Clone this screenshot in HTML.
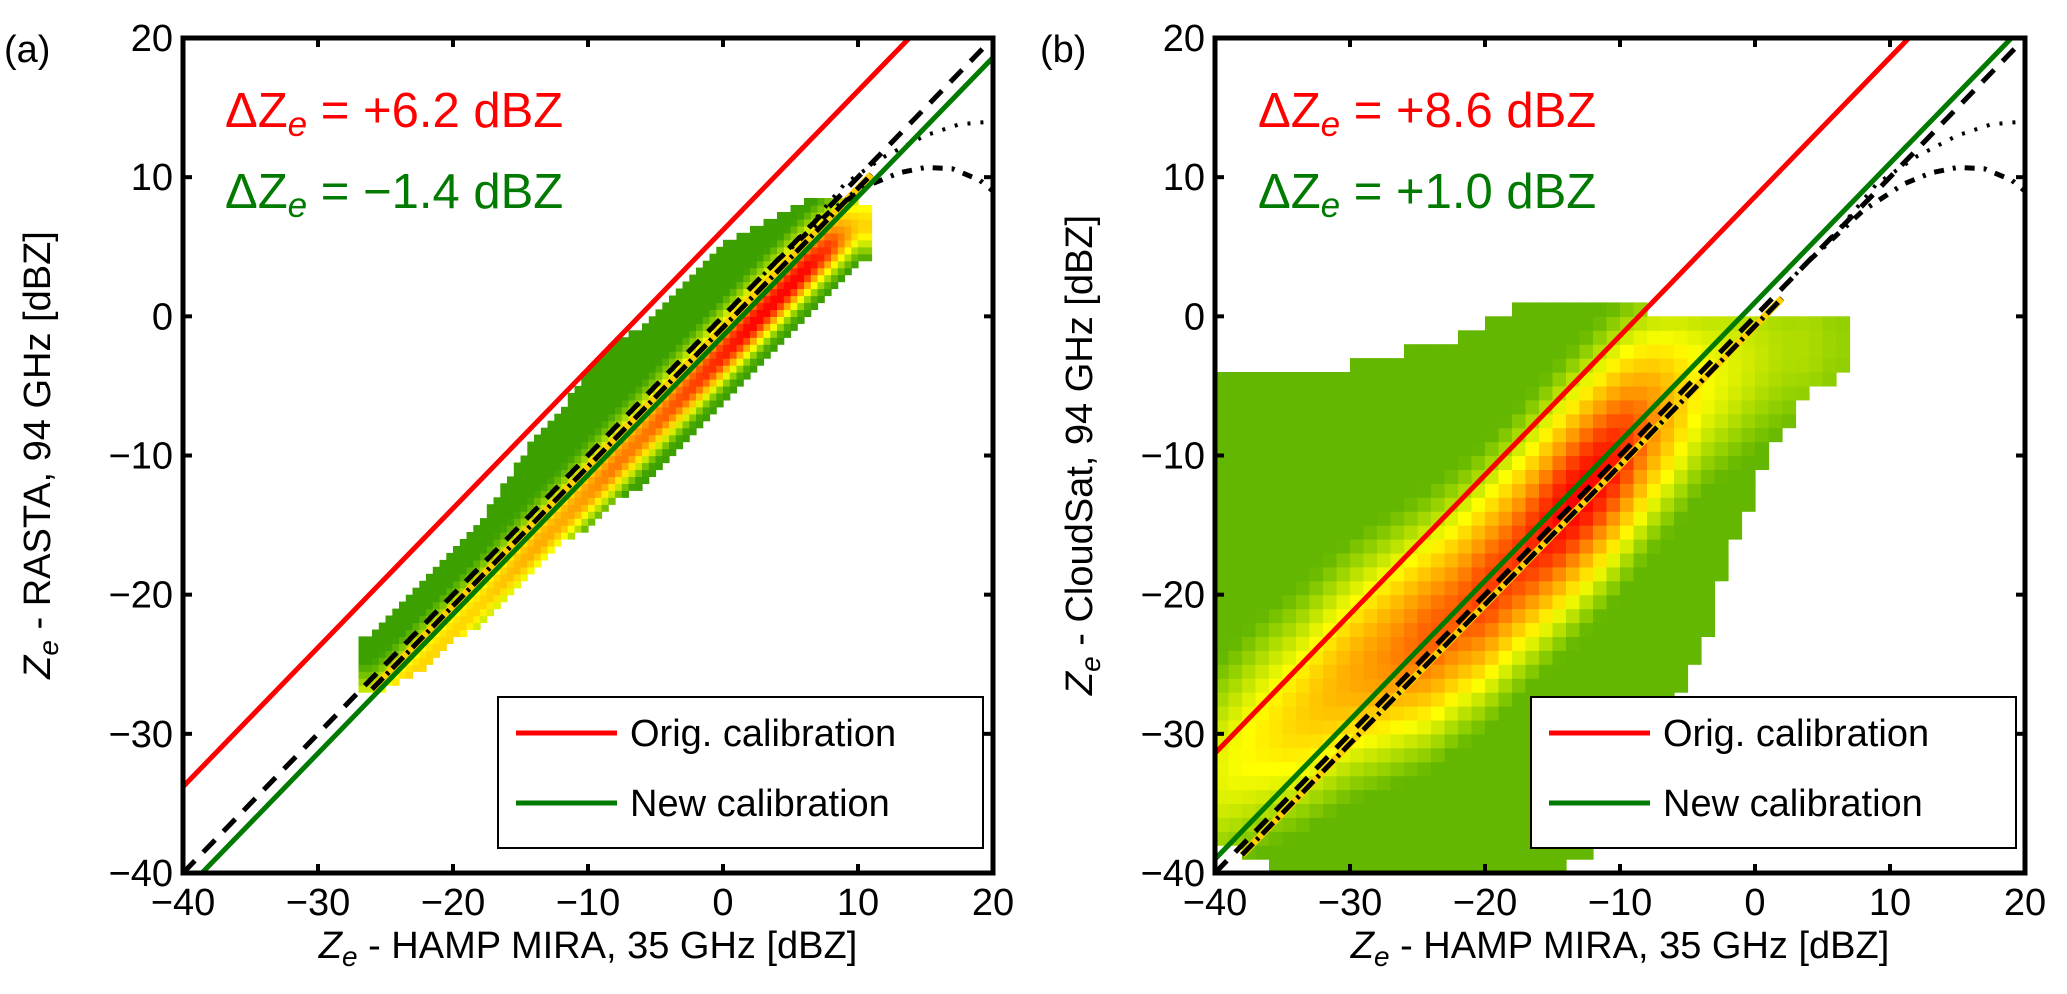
<!DOCTYPE html>
<html>
<head>
<meta charset="utf-8">
<style>
html,body{margin:0;padding:0;background:#fff;}
svg{display:block;font-family:"Liberation Sans",Arial,sans-serif;}
</style>
</head>
<body>
<svg id="fig" width="2067" height="994" viewBox="0 0 2067 994" xmlns="http://www.w3.org/2000/svg">
<defs>
<clipPath id="clipA"><rect x="183" y="38" width="810" height="835"/></clipPath>
<clipPath id="clipB"><rect x="1215" y="38" width="810" height="835"/></clipPath>
</defs>
<g id="panelA"></g>
<g id="panelB"></g>
</svg>
<script>
// ---------- Panel (a) data: RASTA vs MIRA ----------
const aColX   = [-26,-24,-22,-20,-18,-16,-14,-12,-10,-8,-6,-4,-2,0,2,4,6,8,10];
const aColLo  = [-27,-26,-25,-23,-22,-20,-18,-16,-15,-13,-12,-10,-8,-6,-4,-2,0,2,4];
const aColHi  = [-23,-21,-19,-17,-15,-12,-9,-7,-4,-2,-1,1,3,5,6,7,8,8.5,8];
const aRidge  = [-28.5,-26.8,-24.8,-22.8,-20.8,-18.8,-16.8,-14.8,-12.8,-10.8,-8.8,-6.8,-4.8,-2.8,-0.8,1.2,3.2,5,6.5];
const aPeak   = [0.55,0.6,0.6,0.6,0.6,0.65,0.7,0.7,0.75,0.8,0.8,0.85,0.9,0.95,1,1,1,0.9,0.6];
const aOffsets = {orig: 6.2, newc: -1.4};
// ---------- Panel (b) data: CloudSat vs MIRA ----------
const bColX   = [-40,-38,-36,-34,-32,-30,-28,-26,-24,-22,-20,-18,-16,-14,-12,-10,-8,-6,-4,-2,0,2,4,6];
const bColLo  = [-37,-38,-39,-40,-40,-40,-40,-40,-40,-40,-40,-40,-40,-39,-38,-37,-35,-27,-24,-17,-12,-8,-5,-4];
const bColHi  = [-4,-4,-4,-4,-4,-4,-3,-3,-2,-2,-1,0,1,1,1,1,0,0,0,0,0,0,0,0];
const bRidge  = [-33,-31.5,-30,-29,-27.5,-26,-25,-24,-23,-21.5,-20,-18,-16,-14,-12,-10,-8,-6.5,-5,-4,-3,-2.5,-2,-2];
const bPeak   = [0.45,0.5,0.55,0.6,0.65,0.7,0.75,0.8,0.85,0.85,0.9,0.9,0.95,1,1,0.95,0.8,0.65,0.5,0.45,0.4,0.35,0.35,0.3];
const bOffsets = {orig: 8.6, newc: 1.0};
// ---------- reference curves (shared) ----------
const dotCurveX = [3,6,9,12,15,17.5,20];
const dotCurveY = [3,6,9.5,11.5,13,13.8,14];
const ddCurveX  = [4,8,11,13,15,17,19,20];
const ddCurveY  = [4,7.6,9.5,10.3,10.7,10.6,9.8,9];
const ticks = [-40,-30,-20,-10,0,10,20];

const NS = "http://www.w3.org/2000/svg";
function mk(tag, attrs, parent){
  const e = document.createElementNS(NS, tag);
  for (const k in attrs) e.setAttribute(k, attrs[k]);
  if (parent) parent.appendChild(e);
  return e;
}
function cmap(v){
  const st=[[0,[0,128,0]],[0.3,[150,210,0]],[0.5,[255,255,0]],[0.75,[255,150,0]],[1,[255,0,0]]];
  v=Math.max(0,Math.min(1,v));
  for(let i=1;i<st.length;i++){
    if(v<=st[i][0]){
      const t=(v-st[i-1][0])/(st[i][0]-st[i-1][0]);
      const a=st[i-1][1],b=st[i][1];
      return `rgb(${Math.round(a[0]+t*(b[0]-a[0]))},${Math.round(a[1]+t*(b[1]-a[1]))},${Math.round(a[2]+t*(b[2]-a[2]))})`;
    }
  }
  return "rgb(255,0,0)";
}
function lookup(arr, cx, x){
  if(x<=cx[0]) return arr[0];
  if(x>=cx[cx.length-1]) return arr[arr.length-1];
  for(let i=0;i<cx.length-1;i++){
    if(x<=cx[i+1]){const t=(x-cx[i])/(cx[i+1]-cx[i]);return arr[i]+t*(arr[i+1]-arr[i]);}
  }
}

function drawPanel(g, P){
  const sx = x => P.X0 + (x+40)/60*(P.X1-P.X0);
  const sy = y => P.Y1 - (y+40)/60*(P.Y1-P.Y0);
  const hm = mk('g',{'clip-path':`url(#${P.clip})`},g);
  
  
  const xStart = P.cx[0]-P.colW/2, xEnd = P.cx[P.cx.length-1]+P.colW/2;
  for(let x=xStart; x<xEnd-1e-6; x+=P.cell){
    const xc = x+P.cell/2;
    const lo = lookup(P.lo,P.cx,xc), hi = lookup(P.hi,P.cx,xc);
    const rg = lookup(P.ridge,P.cx,xc), pk = lookup(P.peak,P.cx,xc);
    const y0 = Math.floor(lo/P.cell)*P.cell;
    for(let y=y0; y<hi-1e-6; y+=P.cell){
      const d = (y+P.cell/2) - rg;
      const s = d>0 ? P.sUp : P.sDn;
      const v = Math.max(P.floor, pk*Math.exp(-(d/s)*(d/s)));
      const r = mk('rect',{x:sx(x).toFixed(1), y:sy(y+P.cell).toFixed(1),
        width:(sx(x+P.cell)-sx(x)+0.6).toFixed(1), height:(sy(y)-sy(y+P.cell)+0.6).toFixed(1), fill:cmap(v)}, hm);
      
      
    }
  }
  const lines = mk('g',{'clip-path':`url(#${P.clip})`, fill:'none'},g);
  const fit = mk('line',{x1:sx(P.fitX0),y1:sy(P.fitX0+P.fitOff),x2:sx(P.fitX1),y2:sy(P.fitX1+P.fitOff),stroke:'#ffd000','stroke-width':7},lines);
  
  
  const fit2 = mk('line',{x1:sx(P.fitX0),y1:sy(P.fitX0+P.fitOff),x2:sx(P.fitX1),y2:sy(P.fitX1+P.fitOff),stroke:'#000','stroke-width':5,'stroke-dasharray':'16 5 3 5'},lines);
  
  
  const one = mk('line',{x1:sx(-40),y1:sy(-40),x2:sx(20),y2:sy(20),stroke:'#000','stroke-width':5,'stroke-dasharray':'17 12'},lines);
  
  
  const pd = dotCurveX.map((x,i)=>`${i?'L':'M'}${sx(x).toFixed(1)},${sy(dotCurveY[i]).toFixed(1)}`).join(' ');
  const dc = mk('path',{d:pd,stroke:'#000','stroke-width':4,'stroke-dasharray':'3 10'},lines);
  
  
  const pdd = ddCurveX.map((x,i)=>`${i?'L':'M'}${sx(x).toFixed(1)},${sy(ddCurveY[i]).toFixed(1)}`).join(' ');
  const ddc = mk('path',{d:pdd,stroke:'#000','stroke-width':5,'stroke-dasharray':'10 9 3 9'},lines);
  
  
  const rl = mk('line',{x1:sx(-40),y1:sy(-40+P.off.orig),x2:sx(20),y2:sy(20+P.off.orig),stroke:'#ff0000','stroke-width':5},lines);
  
  
  const gl = mk('line',{x1:sx(-40),y1:sy(-40+P.off.newc),x2:sx(20),y2:sy(20+P.off.newc),stroke:'#007a00','stroke-width':5},lines);
  
  
  const fr = mk('rect',{x:P.X0,y:P.Y0,width:P.X1-P.X0,height:P.Y1-P.Y0,fill:'none',stroke:'#000','stroke-width':5},g);
  
  
  ticks.forEach(t=>{
    const X=sx(t), Y=sy(t);
    mk('line',{x1:X,y1:P.Y1,x2:X,y2:P.Y1-9,stroke:'#000','stroke-width':4},g);
    mk('line',{x1:X,y1:P.Y0,x2:X,y2:P.Y0+9,stroke:'#000','stroke-width':4},g);
    mk('line',{x1:P.X0,y1:Y,x2:P.X0+9,y2:Y,stroke:'#000','stroke-width':4},g);
    mk('line',{x1:P.X1,y1:Y,x2:P.X1-9,y2:Y,stroke:'#000','stroke-width':4},g);
    const lab = t<0 ? '\u2212'+(-t) : ''+t;
    const xt = mk('text',{x:X,y:915,'font-size':38,'text-anchor':'middle'},g);
    xt.textContent = lab;
    
    
    const yt = mk('text',{x:P.X0-10,y:Y+13,'font-size':38,'text-anchor':'end'},g);
    yt.textContent = lab;
    
    
  });
}

drawPanel(document.getElementById('panelA'), {X0:183,X1:993,Y0:38,Y1:873,clip:'clipA',
  cx:aColX,lo:aColLo,hi:aColHi,ridge:aRidge,peak:aPeak,colW:2,cell:0.5,sUp:3.0,sDn:2.0,floor:0.12,
  fitX0:-26,fitX1:11,fitOff:-0.8,off:aOffsets});
drawPanel(document.getElementById('panelB'), {X0:1215,X1:2025,Y0:38,Y1:873,clip:'clipB',
  cx:bColX,lo:bColLo,hi:bColHi,ridge:bRidge,peak:bPeak,colW:2,cell:1,sUp:9,sDn:8,floor:0.2,
  fitX0:-38,fitX1:2,fitOff:-0.7,off:bOffsets});
</script>
<svg style="position:absolute;left:0;top:0" width="2067" height="994" viewBox="0 0 2067 994" xmlns="http://www.w3.org/2000/svg" font-family="Liberation Sans, Arial, sans-serif">
  <text x="4" y="62" font-size="38">(a)</text>
  <text x="1040" y="62" font-size="38">(b)</text>
  <text x="225" y="127" font-size="49" fill="#ff0000">ΔZ<tspan font-style="italic" font-size="35" dy="9">e</tspan><tspan dy="-9"> = +6.2 dBZ</tspan></text>
  <text x="225" y="208" font-size="49" fill="#007a00">ΔZ<tspan font-style="italic" font-size="35" dy="9">e</tspan><tspan dy="-9"> = −1.4 dBZ</tspan></text>
  <text x="1258" y="127" font-size="49" fill="#ff0000">ΔZ<tspan font-style="italic" font-size="35" dy="9">e</tspan><tspan dy="-9"> = +8.6 dBZ</tspan></text>
  <text x="1258" y="208" font-size="49" fill="#007a00">ΔZ<tspan font-style="italic" font-size="35" dy="9">e</tspan><tspan dy="-9"> = +1.0 dBZ</tspan></text>
  <text x="588" y="958" font-size="38" text-anchor="middle"><tspan font-style="italic">Z</tspan><tspan font-style="italic" font-size="28" dy="8">e</tspan><tspan dy="-8"> - HAMP MIRA, 35 GHz [dBZ]</tspan></text>
  <text x="1620" y="958" font-size="38" text-anchor="middle"><tspan font-style="italic">Z</tspan><tspan font-style="italic" font-size="28" dy="8">e</tspan><tspan dy="-8"> - HAMP MIRA, 35 GHz [dBZ]</tspan></text>
  <text transform="translate(50,455) rotate(-90)" font-size="38" text-anchor="middle"><tspan font-style="italic">Z</tspan><tspan font-style="italic" font-size="28" dy="8">e</tspan><tspan dy="-8"> - RASTA, 94 GHz [dBZ]</tspan></text>
  <text transform="translate(1092,455) rotate(-90)" font-size="38" text-anchor="middle"><tspan font-style="italic">Z</tspan><tspan font-style="italic" font-size="28" dy="8">e</tspan><tspan dy="-8"> - CloudSat, 94 GHz [dBZ]</tspan></text>
  <g>
    <rect x="498" y="697" width="485" height="151" fill="#fff" stroke="#000" stroke-width="2"/>
    <line x1="516" y1="733" x2="617" y2="733" stroke="#ff0000" stroke-width="5"/>
    <text x="630" y="746" font-size="38">Orig. calibration</text>
    <line x1="516" y1="803" x2="617" y2="803" stroke="#007a00" stroke-width="5"/>
    <text x="630" y="816" font-size="38">New calibration</text>
  </g>
  <g>
    <rect x="1531" y="697" width="485" height="151" fill="#fff" stroke="#000" stroke-width="2"/>
    <line x1="1549" y1="733" x2="1650" y2="733" stroke="#ff0000" stroke-width="5"/>
    <text x="1663" y="746" font-size="38">Orig. calibration</text>
    <line x1="1549" y1="803" x2="1650" y2="803" stroke="#007a00" stroke-width="5"/>
    <text x="1663" y="816" font-size="38">New calibration</text>
  </g>
</svg>
</body>
</html>
